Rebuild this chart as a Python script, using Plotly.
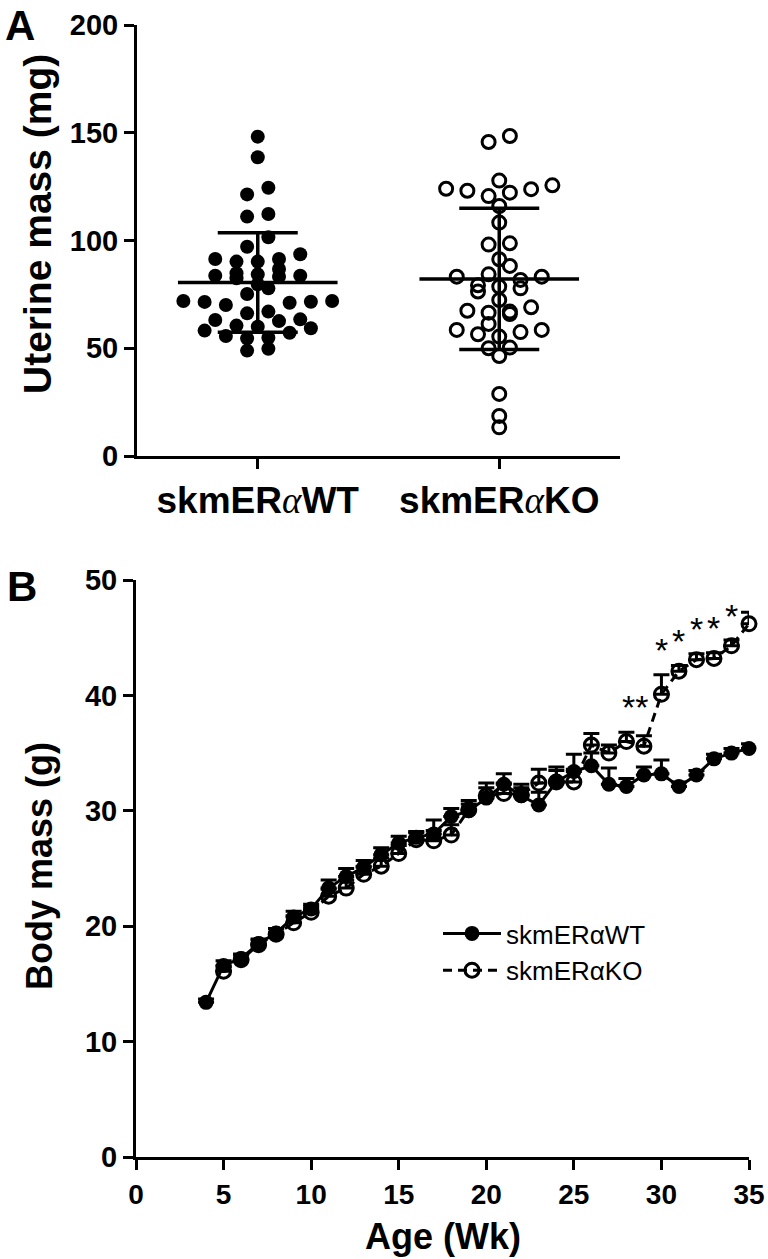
import numpy as np
import plotly.graph_objects as go

# ---------------- data ----------------
groups = ["skmERαWT", "skmERαKO"]
wt_uterine = [148.2, 138.6, 124.5, 121.4, 112.3, 111.1, 101.5, 97.1, 93.6, 91.4, 90.2, 90.2,
              91.4, 86.8, 84.3, 83.7, 82.5, 84.8, 83.2, 83.7, 77.8, 79.7, 75.2, 71.9, 71.5,
              70.1, 71.1, 71.6, 71.9, 67.0, 66.2, 63.4, 62.6, 60.0, 59.3, 60.5, 63.1, 58.2,
              55.7, 54.6, 54.9, 57.2, 48.9, 49.8]
ko_uterine = [145.7, 148.5, 125.6, 123.8, 122.2, 120.6, 123.1, 124.0, 127.8, 116.0, 108.3,
              98.7, 98.1, 91.3, 88.2, 84.3, 83.2, 79.2, 77.8, 76.3, 78.6, 81.7, 83.2, 72.4,
              65.9, 67.4, 66.5, 67.0, 69.0, 58.5, 57.5, 56.5, 55.4, 58.5, 61.3, 50.3, 46.4,
              50.0, 28.8, 18.6, 13.3]

weeks_wt = list(range(4, 36))
wt_body = [13.4, 16.6, 17.2, 18.5, 19.4, 20.8, 21.5, 23.3, 24.3, 25.1, 26.2, 27.2, 27.7, 28.0,
           29.5, 30.0, 31.1, 32.3, 31.3, 30.5, 32.5, 33.4, 33.9, 32.3, 32.1, 33.1, 33.2, 32.1,
           33.1, 34.5, 35.0, 35.4]
wt_sem = [0.3, 0.4, 0.4, 0.4, 0.4, 0.5, 0.4, 0.7, 0.7, 0.6, 0.6, 0.6, 0.5, 1.2, 0.7, 0.9,
          1.3, 0.9, 1.0, 1.1, 1.3, 1.5, 1.1, 1.4, 0.7, 0.7, 1.2, 0.4, 0.4, 0.4, 0.4, 0.4]

weeks_ko = list(range(5, 36))
ko_body = [16.1, 17.1, 18.4, 19.3, 20.3, 21.2, 22.6, 23.3, 24.5, 25.2, 26.3, 27.5, 27.4, 27.9,
           30.1, 31.3, 31.5, 31.4, 32.4, 32.5, 32.5, 35.7, 35.0, 36.0, 35.6, 40.1, 42.1, 43.1,
           43.2, 44.3, 46.2]
ko_sem = [0.4, 0.4, 0.4, 0.5, 0.6, 0.5, 0.6, 0.7, 0.7, 0.7, 0.7, 0.6, 0.9, 0.9, 0.5, 0.7,
          0.9, 0.6, 1.2, 1.0, 1.1, 1.0, 0.7, 0.8, 0.9, 1.7, 0.5, 0.5, 0.5, 0.5, 1.0]

sig_weeks = [30, 30, 31, 32, 33, 34, 35]
sig_labels = ["**", "*", "*", "*", "*", "*", "*"]

# ---------------- helpers ----------------
W, H = 768, 1259
def px(x):
    return x / W
def py(y):
    return 1 - y / H

def swarm_offsets(values, bin_size=6.0, step=0.088):
    v = np.asarray(values, dtype=float)
    bins = np.floor(v / bin_size).astype(int)
    off = np.zeros(len(v))
    for b in np.unique(bins):
        idx = [i for i in np.argsort(v) if bins[i] == b]
        n = len(idx)
        slots = (np.arange(n) - (n - 1) / 2) * step
        slot_order = sorted(range(n), key=lambda k: (abs(slots[k]), slots[k]))
        for j, i in enumerate(idx):
            off[i] = slots[slot_order[j]]
    return off

def alpha_label(t):
    a = t.index("α")
    style = "font-family:'Liberation Serif';font-style:italic;font-weight:normal"
    return t[:a] + f"<span style=\"{style}\">α</span>" + t[a + 1:]

fig = go.Figure()

# ---------------- panel A ----------------
wt_off = swarm_offsets(wt_uterine)
ko_off = swarm_offsets(ko_uterine)
fig.add_trace(go.Scatter(x=0 + wt_off, y=wt_uterine, mode="markers", showlegend=False,
                         marker=dict(symbol="circle", size=14, color="black", line=dict(width=0)),
                         xaxis="x", yaxis="y", cliponaxis=False))
fig.add_trace(go.Scatter(x=1 + ko_off, y=ko_uterine, mode="markers", showlegend=False,
                         marker=dict(symbol="circle-open", size=13, color="black", line=dict(width=3)),
                         xaxis="x", yaxis="y", cliponaxis=False))
means = [float(np.mean(wt_uterine)), float(np.mean(ko_uterine))]
sds = [float(np.std(wt_uterine, ddof=1)), float(np.std(ko_uterine, ddof=1))]
fig.add_trace(go.Scatter(x=[0, 1], y=means, mode="markers", showlegend=False,
                         marker=dict(symbol="line-ew", size=114, color="black",
                                     line=dict(width=3.5, color="black")),
                         error_y=dict(type="data", array=sds, visible=True, thickness=3.5,
                                      width=40, color="black"),
                         xaxis="x", yaxis="y", cliponaxis=False))

# ---------------- panel B ----------------
fig.add_trace(go.Scatter(x=weeks_ko, y=ko_body, mode="lines+markers", name=groups[1],
                         legendrank=2,
                         line=dict(color="black", width=3, dash="9px,6px"),
                         marker=dict(symbol="circle-open", size=14, color="black", line=dict(width=3)),
                         error_y=dict(type="data", array=ko_sem, arrayminus=[0] * len(ko_sem),
                                      symmetric=False, visible=True, thickness=3, width=8,
                                      color="black"),
                         xaxis="x2", yaxis="y2", cliponaxis=False))
fig.add_trace(go.Scatter(x=weeks_wt, y=wt_body, mode="lines+markers", name=groups[0],
                         legendrank=1,
                         line=dict(color="black", width=3),
                         marker=dict(symbol="circle", size=15, color="black"),
                         error_y=dict(type="data", array=wt_sem, arrayminus=[0] * len(wt_sem),
                                      symmetric=False, visible=True, thickness=3, width=8,
                                      color="black"),
                         xaxis="x2", yaxis="y2", cliponaxis=False))

# significance stars
ko_map = dict(zip(weeks_ko, zip(ko_body, ko_sem)))
for wk, lab in zip(sig_weeks, sig_labels):
    val, sem = ko_map[wk]
    if lab == "**":
        xx, yy = wk - 1.5, val - 0.3
    else:
        xx, yy = wk, val + sem + 2.9
    fig.add_annotation(x=xx, y=yy, xref="x2", yref="y2", text=lab, showarrow=False,
                       xanchor="center", yanchor="middle",
                       font=dict(family="Liberation Sans", size=34, color="black"),
                       yshift=-9)

axis_common = dict(showline=True, linewidth=3, linecolor="black", ticks="outside",
                   ticklen=10, tickwidth=3, tickcolor="black", showgrid=False, zeroline=False,
                   automargin=False,
                   tickfont=dict(family="Liberation Sans", size=29, color="black", weight="bold"))

fig.update_layout(
    width=W, height=H, margin=dict(l=0, r=0, t=0, b=0, autoexpand=False),
    paper_bgcolor="white", plot_bgcolor="white",
    font=dict(family="Liberation Sans", color="black"),
    xaxis=dict(domain=[px(137), px(620)], range=[-0.5, 1.5], anchor="y",
               tickvals=[0, 1], ticktext=[alpha_label(g) for g in groups],
               **{**axis_common, "tickfont": dict(family="Liberation Sans", size=37,
                                                   color="black", weight="bold")}),
    yaxis=dict(domain=[py(456), py(25)], range=[0, 200], dtick=50, anchor="x", **axis_common),
    xaxis2=dict(domain=[px(136), px(749)], range=[0, 35], dtick=5, anchor="y2",
                **{**axis_common, "tickfont": dict(family="Liberation Sans", size=28,
                                                    color="black", weight="bold")}),
    yaxis2=dict(domain=[py(1157), py(580)], range=[0, 50], dtick=10, anchor="x2", **axis_common),
    showlegend=True,
    legend=dict(x=px(438), y=py(910), xanchor="left", yanchor="top", bgcolor="rgba(0,0,0,0)",
                font=dict(family="Liberation Sans", size=26, color="black"), itemwidth=58,
                traceorder="normal"),
)

title_font = dict(family="Liberation Sans", size=40, color="black", weight="bold")
def label(text, x, y, size, angle=0):
    fig.add_annotation(text=text, x=px(x), y=py(y), xref="paper", yref="paper",
                       xanchor="center", yanchor="middle", textangle=angle,
                       showarrow=False, font=dict(title_font, size=size))

label("Uterine mass (mg)", 37, 224, 39, -90)
label("Body mass (g)", 40, 866, 36, -90)
label("Age (Wk)", 443, 1236, 36)
label("A", 20, 25, 42)
label("B", 22, 586, 42)

fig.write_html("out.html", config={"displayModeBar": False},
               post_script="document.body.style.margin='0';document.body.style.padding='0';"
                           "document.documentElement.style.overflow='hidden';")
